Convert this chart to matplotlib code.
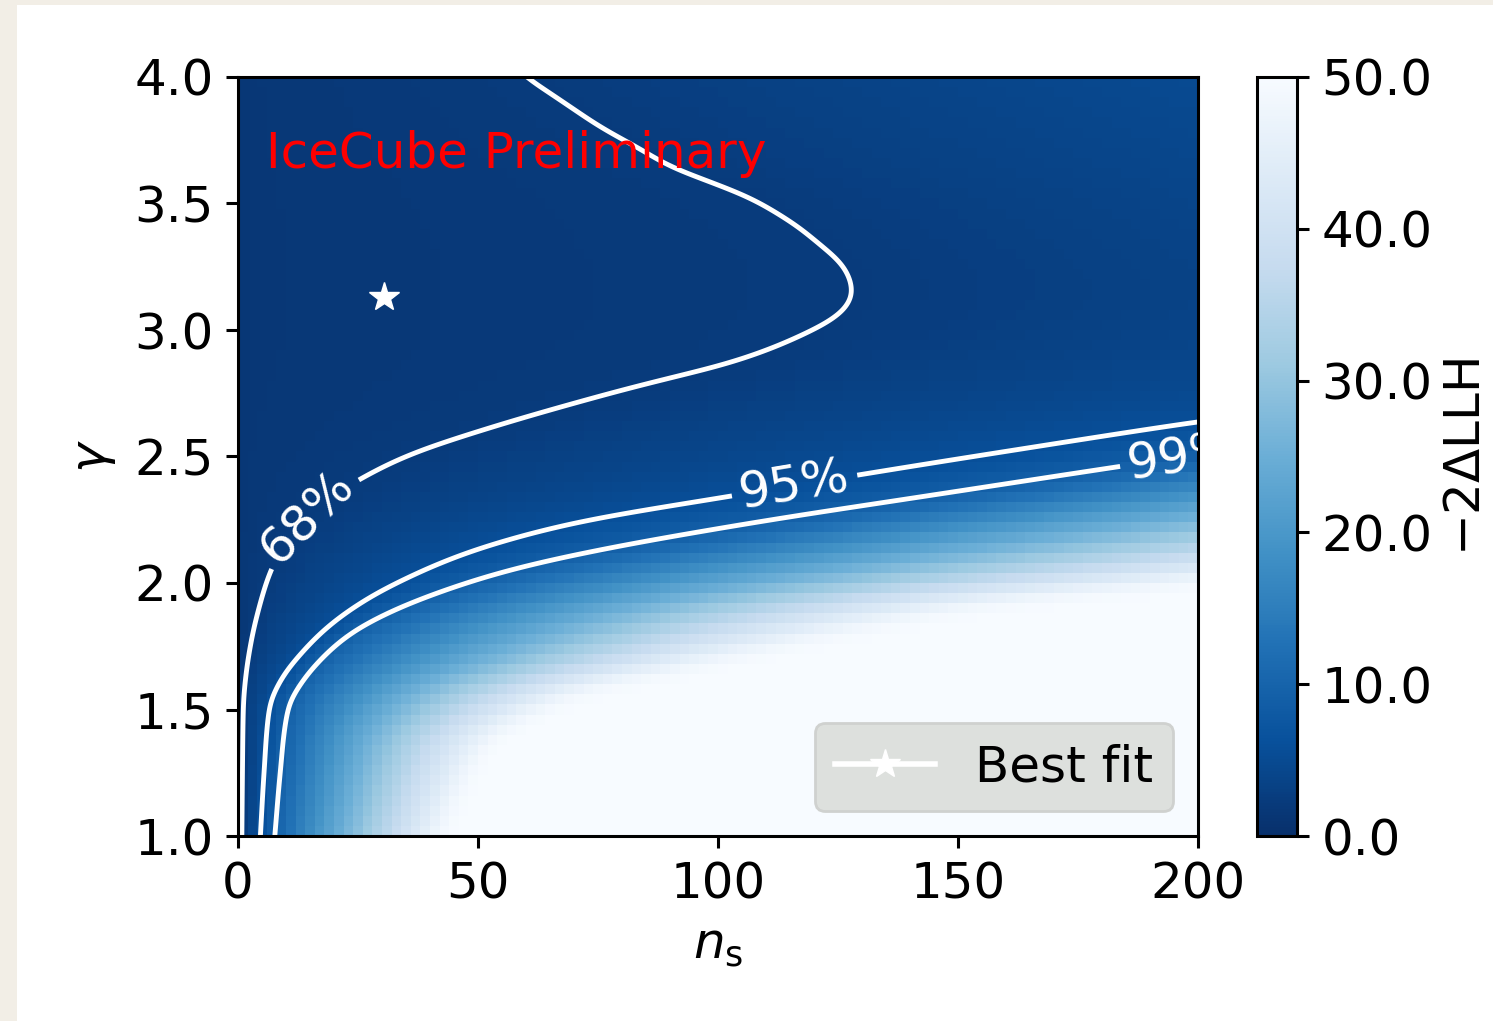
import numpy as np
import matplotlib
matplotlib.use("Agg")
import matplotlib.pyplot as plt
from matplotlib.patches import Rectangle

# ---------------- data ----------------
ns_range = [0.0, 200.0]
gamma_range = [1.0, 4.0]
n_ns_bins = 100
n_gamma_bins = 75

cl_levels = [2.28, 5.99, 9.21]          # -2 Delta LLH for 68/95/99 % (2 dof)
cl_names = ["68%", "95%", "99%"]
ts_at_ns0 = 1.5                          # -2 Delta LLH at ns = 0
ts_saturation = 50.0

# contour positions (gamma -> ns)
c68_gamma = [1.00, 1.25, 1.51, 1.65, 1.775, 1.90, 2.04, 2.15, 2.25, 2.33, 2.407, 2.498,
             2.581, 2.696, 2.779, 2.842, 2.905, 2.96, 3.012, 3.06, 3.103, 3.145,
             3.182, 3.235, 3.289, 3.35, 3.42, 3.48, 3.538, 3.617, 3.656, 3.73, 3.80,
             3.90, 4.00]
c68_ns = [0.7, 0.8, 1.0, 1.7, 2.8, 4.4, 6.7, 9.8, 14.0, 19.0, 25.6, 35.4,
          48.5, 69.4, 85.8, 100.0, 110.2, 117.0, 122.7, 126.3, 128.0, 128.7,
          128.5, 127.5, 125.4, 121.5, 117.0, 112.0, 106.5, 95.5, 90.0, 83.5, 76.5,
          68.5, 60.5]

c95_gamma = [1.00, 1.25, 1.51, 1.62, 1.72, 1.82, 1.933, 2.03, 2.118, 2.18, 2.237, 2.28,
             2.32, 2.37, 2.419, 2.47, 2.52, 2.57, 2.625, 2.70, 2.80, 3.00, 3.15, 3.35,
             3.60, 4.00]
c95_ns = [4.8, 5.6, 6.8, 9.5, 14.0, 19.5, 27.7, 37.5, 48.5, 59.0, 71.0, 84.0,
          98.0, 114.0, 130.0, 147.0, 164.0, 181.0, 200.0, 232.0, 268.0, 320.0, 346.0, 330.0,
          300.0, 251.0]

c99_gamma = [1.00, 1.25, 1.51, 1.61, 1.708, 1.80, 1.881, 1.96, 2.04, 2.12, 2.19, 2.25,
             2.316, 2.38, 2.447, 2.495, 2.60, 2.75, 3.00, 3.15, 3.50, 4.00]
c99_ns = [7.7, 8.8, 10.4, 13.2, 17.3, 23.0, 31.2, 42.0, 55.6, 75.0, 96.0, 115.0,
          138.0, 160.0, 183.0, 200.0, 236.0, 285.0, 360.0, 390.0, 370.0, 330.0]

csat_gamma = [1.00, 1.20, 1.38, 1.51, 1.60, 1.668, 1.75, 1.85, 1.933, 2.00, 2.10, 2.30,
              2.60, 3.00, 3.50, 4.00]
csat_ns = [43.0, 48.0, 54.0, 66.0, 79.0, 96.0, 115.0, 140.0, 166.0, 200.0, 250.0, 340.0,
           480.0, 700.0, 800.0, 800.0]

best_fit_ns = 30.4
best_fit_gamma = 3.13

label_ns = [14.0, 116.0, 197.0]
label_gamma = [2.27, 2.38, 2.48]

xticks = [0, 50, 100, 150, 200]
yticks = [1.0, 1.5, 2.0, 2.5, 3.0, 3.5, 4.0]
cbar_ticks = [0, 10, 20, 30, 40, 50]


def pchip(x, xp, fp):
    """Shape-preserving piecewise cubic through the read-off contour points."""
    xp = np.asarray(xp, float)
    fp = np.asarray(fp, float)
    h = np.diff(xp)
    d = np.diff(fp) / h
    n = len(xp)
    m = np.zeros(n)
    m[0], m[-1] = d[0], d[-1]
    for k in range(1, n - 1):
        if d[k - 1] * d[k] > 0:
            w1 = 2 * h[k] + h[k - 1]
            w2 = h[k] + 2 * h[k - 1]
            m[k] = (w1 + w2) / (w1 / d[k - 1] + w2 / d[k])
    x = np.asarray(x, float)
    i = np.clip(np.searchsorted(xp, x) - 1, 0, n - 2)
    t = (x - xp[i]) / h[i]
    h00 = 2 * t**3 - 3 * t**2 + 1
    h10 = t**3 - 2 * t**2 + t
    h01 = -2 * t**3 + 3 * t**2
    h11 = t**3 - t**2
    return h00 * fp[i] + h10 * h[i] * m[i] + h01 * fp[i + 1] + h11 * h[i] * m[i + 1]


def ts_field(ns, gamma):
    n68 = pchip(gamma, c68_gamma, c68_ns)
    n95 = pchip(gamma, c95_gamma, c95_ns)
    n99 = pchip(gamma, c99_gamma, c99_ns)
    nsat = pchip(gamma, csat_gamma, csat_ns)
    fp = [ts_at_ns0] + cl_levels + [ts_saturation]
    out = np.empty((len(gamma), len(ns)))
    for i in range(len(gamma)):
        xp = [0.0, n68[i], n95[i], n99[i], nsat[i]]
        out[i] = np.interp(ns, xp, fp)
    return out


def smooth1d(Z, sigma, axis):
    """Gaussian smoothing with odd-reflection padding (keeps linear trends)."""
    r = int(3 * sigma) + 1
    k = np.exp(-0.5 * (np.arange(-r, r + 1) / sigma) ** 2)
    k /= k.sum()
    Z = np.moveaxis(Z, axis, -1)
    left = 2 * Z[..., :1] - Z[..., r:0:-1]
    right = 2 * Z[..., -1:] - Z[..., -2:-r - 2:-1]
    P = np.concatenate([left, Z, right], axis=-1)
    out = np.apply_along_axis(lambda v: np.convolve(v, k, mode="valid"), -1, P)
    return np.moveaxis(out, -1, axis)


# ---------------- figure ----------------
W, H = 1493, 1021
fig = plt.figure(figsize=(W / 100, H / 100), dpi=100)
fig.patch.set_facecolor("#f2eee6")
fig.add_artist(Rectangle((17 / W, 0), 1 - 17 / W, 1 - 5 / H, transform=fig.transFigure,
                         facecolor="white", edgecolor="none", zorder=-10))

ax = fig.add_axes([238 / W, 185 / H, 960 / W, 759 / H])
cax = fig.add_axes([1257 / W, 185 / H, 40 / W, 759 / H])

FS = 36
LW = 2.2

# fine evaluation grid (0.25 in ns, 1/300 in gamma), lightly smoothed (~8 px)
ns_f = np.linspace(ns_range[0], ns_range[1], 801)
g_f = np.linspace(gamma_range[0], gamma_range[1], 901)
Zf = ts_field(ns_f, g_f)
Zf = smooth1d(Zf, 8.0 / 1.2, axis=1)
Zf = smooth1d(Zf, 8.0 / 0.843, axis=0)

# coarse heat map sampled at the bin centres of the fine grid
ns_edges = np.linspace(ns_range[0], ns_range[1], n_ns_bins + 1)
g_edges = np.linspace(gamma_range[0], gamma_range[1], n_gamma_bins + 1)
ns_c = 0.5 * (ns_edges[1:] + ns_edges[:-1])
g_c = 0.5 * (g_edges[1:] + g_edges[:-1])
ix = np.rint((ns_c - ns_range[0]) / (ns_f[1] - ns_f[0])).astype(int)
iy = np.rint((g_c - gamma_range[0]) / (g_f[1] - g_f[0])).astype(int)
Z = Zf[np.ix_(iy, ix)]
mesh = ax.pcolormesh(ns_edges, g_edges, Z, cmap="Blues_r", vmin=0, vmax=ts_saturation,
                     shading="flat", rasterized=True)

cs = ax.contour(ns_f, g_f, Zf, levels=cl_levels, colors="white", linewidths=3.5)
fmt = {lev: name for lev, name in zip(cs.levels, cl_names)}
ax.clabel(cs, fmt=fmt, fontsize=FS, inline=True, inline_spacing=8,
          manual=list(zip(label_ns, label_gamma)))

ax.plot([best_fit_ns], [best_fit_gamma], marker="*", color="white", ms=22, lw=4,
        ls="-", label="Best fit")

ax.text(0.029, 0.880, "IceCube Preliminary", color="red", fontsize=FS,
        transform=ax.transAxes, va="baseline", ha="left")

ax.set_xlim(ns_range)
ax.set_ylim(gamma_range)
ax.set_xticks(xticks)
ax.set_yticks(yticks)
ax.set_yticklabels([f"{v:.1f}" for v in yticks])
ax.tick_params(labelsize=FS, length=8.5, width=LW, pad=9)
for sp in ax.spines.values():
    sp.set_linewidth(LW)
ax.set_xlabel(r"$n_\mathrm{s}$", fontsize=FS, labelpad=9)
ax.set_ylabel(r"$\gamma$", fontsize=FS, labelpad=12)

leg = ax.legend(loc="lower right", fontsize=FS, facecolor="#dde0dd", edgecolor="#cfd1cf",
                framealpha=1.0, handlelength=2.0)
leg.get_frame().set_linewidth(2)

cb = fig.colorbar(mesh, cax=cax, ticks=cbar_ticks, format="%.1f")
cb.outline.set_linewidth(LW)
cax.tick_params(labelsize=FS, length=8.5, width=LW, pad=9)
cb.set_label(r"$-2\Delta$LLH", fontsize=FS, labelpad=7)

fig.savefig("out.png", dpi=100, facecolor=fig.get_facecolor())
